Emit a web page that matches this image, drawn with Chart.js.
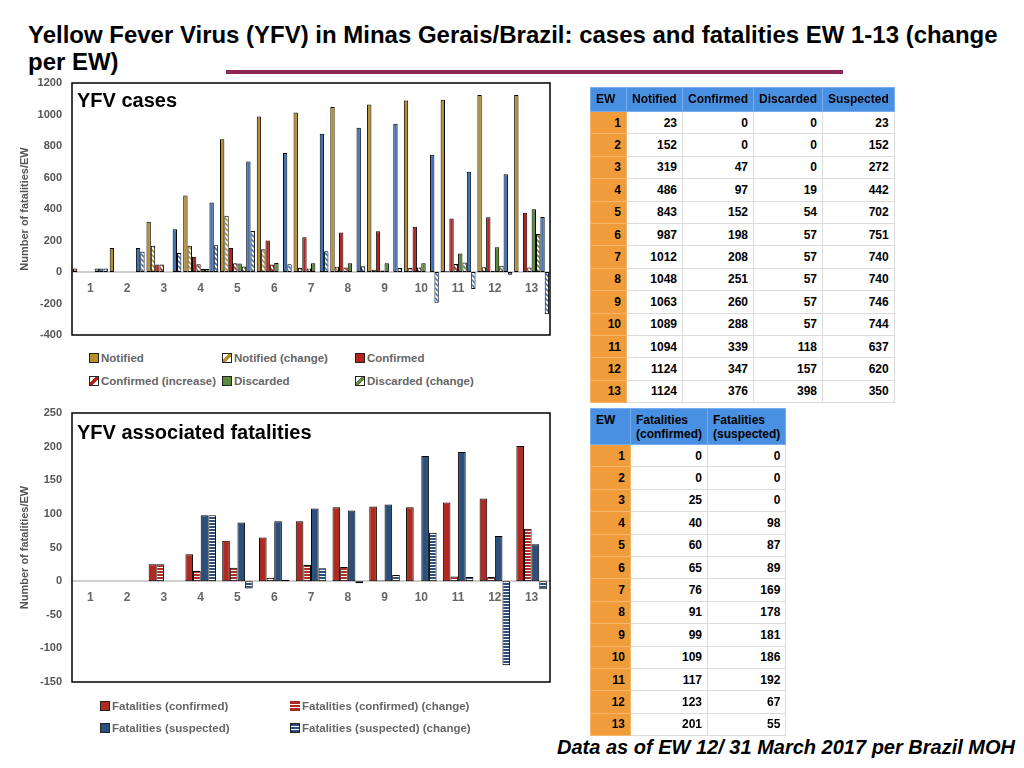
<!DOCTYPE html>
<html>
<head>
<meta charset="utf-8">
<title>YFV Minas Gerais</title>
<script src="https://cdn.jsdelivr.net/npm/chart.js@4.4.1/dist/chart.umd.min.js"></script>
<style>
  body { margin: 0; width: 1024px; height: 768px; background: #fff; position: relative; overflow: hidden;
         font-family: 'Liberation Sans', Arial, Helvetica, sans-serif; }
  #title { position: absolute; left: 28px; top: 21px; font-weight: bold; font-size: 24px; line-height: 27px;
           white-space: nowrap; transform-origin: 0 0; }
  #rule { position: absolute; left: 226px; top: 70px; width: 617px; height: 4px; background: #8e2656; }
  .chartbox { position: absolute; left: 0; width: 560px; }
  .panel-title { position: absolute; left: 77px; font-weight: bold; font-size: 20px; line-height: 22px; }
  .legend { position: absolute; font-size: 11.5px; font-weight: bold; color: #666; white-space: nowrap; line-height: 14px; }
  .legend i { display: inline-block; width: 8px; height: 8px; border: 1px solid #222; margin-right: 2px; vertical-align: -1px; }
  table { position: absolute; border-collapse: collapse; font-size: 12px; font-weight: bold; table-layout: fixed; }
  th, td { border: 1px solid #dcdcdc; padding: 0 5px; overflow: hidden; }
  th { background: #4a90e2; border-color: #78aef0; text-align: left; vertical-align: top; padding-top: 4px; line-height: 14px; }
  td { text-align: right; height: 21.4px; }
  td.ew { background: #f09c3a; border-color: #f5b56a; }
  #footer { position: absolute; right: 9px; top: 736px; font-weight: bold; font-style: italic; font-size: 20px; white-space: nowrap; }
</style>
</head>
<body>
<div id="title">Yellow Fever Virus (YFV) in Minas Gerais/Brazil: cases and fatalities EW 1-13 (change<br>per EW)</div>
<div id="rule"></div>

<div class="chartbox" style="top:73px;height:275px"><canvas id="casesChart"></canvas></div>
<div class="panel-title" style="top:89px">YFV cases</div>

<div class="chartbox" style="top:400px;height:300px"><canvas id="deathsChart"></canvas></div>
<div class="panel-title" style="top:421px">YFV associated fatalities</div>

<div id="footer">Data as of EW 12/ 31 March 2017 per Brazil MOH</div>

<script>
// --- Data ---

const weeks = ['1', '2', '3', '4', '5', '6', '7', '8', '9', '10', '11', '12', '13'];

// cases chart
const notified          = [23, 152, 319, 486, 843, 987, 1012, 1048, 1063, 1089, 1094, 1124, 1124];
const notifiedChange    = [0, 0, 167, 167, 357, 144, 25, 34, 15, 26, 5, 30, 0];
const confirmed         = [0, 0, 47, 97, 152, 200, 221, 251, 258, 288, 339, 347, 376];
const confirmedIncrease = [0, 0, 47, 50, 55, 47, 22, 29, 9, 28, 51, 8, 29];
const discarded         = [0, 0, 0, 19, 54, 57, 55, 55, 55, 55, 118, 157, 398];
const discardedChange   = [23, 0, 0, 19, 35, 3, 0, 0, 0, 0, 61, 39, 241];
const suspected         = [23, 152, 272, 442, 702, 755, 878, 916, 941, 745, 637, 620, 350];
const suspectedChange   = [23, 129, 120, 170, 260, 49, 131, 37, 25, -196, -108, -17, -268];

// fatalities chart
const fatalConfirmed       = [0, 0, 25, 40, 60, 65, 89, 110, 111, 110, 117, 123, 201];
const fatalConfirmedChange = [0, 0, 25, 15, 20, 5, 24, 21, 1, 0, 7, 6, 78];
const fatalSuspected       = [0, 0, 0, 98, 87, 89, 108, 105, 114, 186, 192, 67, 55];
const fatalSuspectedChange = [0, 0, 0, 98, -11, 2, 19, -3, 9, 72, 6, -125, -12];

// tables
const caseHeaders   = ['EW', 'Notified', 'Confirmed', 'Discarded', 'Suspected'];
const tabNotified   = [23, 152, 319, 486, 843, 987, 1012, 1048, 1063, 1089, 1094, 1124, 1124];
const tabConfirmed  = [0, 0, 47, 97, 152, 198, 208, 251, 260, 288, 339, 347, 376];
const tabDiscarded  = [0, 0, 0, 19, 54, 57, 57, 57, 57, 57, 118, 157, 398];
const tabSuspected  = [23, 152, 272, 442, 702, 751, 740, 740, 746, 744, 637, 620, 350];

const deathHeaders      = ['EW', 'Fatalities<br>(confirmed)', 'Fatalities<br>(suspected)'];
const tabFatalConfirmed = [0, 0, 25, 40, 60, 65, 76, 91, 99, 109, 117, 123, 201];
const tabFatalSuspected = [0, 0, 0, 98, 87, 89, 169, 178, 181, 186, 192, 67, 55];

// --- Colours & fills ---

const GOLD = '#b78f2b';
const RED = '#b5231c';
const GREEN = '#5c8a3b';
const BLUE = '#3f74bb';
const D_RED = '#b02a1f';
const D_BLUE = '#2d4f7b';

function hatch(color) {
    const c = document.createElement('canvas');
    c.width = 5; c.height = 5;
    const g = c.getContext('2d');
    g.fillStyle = '#fff';
    g.fillRect(0, 0, 5, 5);
    g.strokeStyle = color;
    g.lineWidth = 1.6;
    g.beginPath();
    g.moveTo(0, 0); g.lineTo(5, 5);
    g.moveTo(-1, 4); g.lineTo(1, 6);
    g.moveTo(4, -1); g.lineTo(6, 1);
    g.stroke();
    return g.createPattern(c, 'repeat');
}

function stripes(color) {
    const c = document.createElement('canvas');
    c.width = 4; c.height = 3;
    const g = c.getContext('2d');
    g.fillStyle = '#fff';
    g.fillRect(0, 0, 4, 3);
    g.fillStyle = color;
    g.fillRect(0, 0, 4, 2);
    return g.createPattern(c, 'repeat');
}

// zero-height bars would leave a stray border line
const noZero = arr => arr.map(v => (v === 0 ? null : v));

// black frame round the plot area
const framePlugin = {
    id: 'frame',
    afterDraw(chart) {
        const { ctx, chartArea: a } = chart;
        ctx.save();
        ctx.strokeStyle = '#000';
        ctx.lineWidth = 1.5;
        ctx.strokeRect(a.left, a.top, a.right - a.left, a.bottom - a.top);
        ctx.restore();
    }
};

const tickFont = { family: "'Liberation Sans', Arial, sans-serif", size: 11, weight: 'bold' };

function barOptions(min, max, step, padding, catPct) {
    return {
        responsive: true,
        maintainAspectRatio: false,
        animation: false,
        layout: { padding },
        datasets: { bar: { categoryPercentage: catPct, barPercentage: 1, borderWidth: 1, borderColor: '#000', borderSkipped: false } },
        plugins: { legend: { display: false }, tooltip: { enabled: false } },
        scales: {
            x: {
                position: { y: 0 },
                grid: { display: false, drawTicks: false },
                border: { display: true, color: '#cfcfcf', width: 2 },
                ticks: { color: '#666', font: { ...tickFont, size: 12 }, padding: 9 },
                afterFit: scale => { scale.height = 0; scale.paddingTop = 0; scale.paddingBottom = 0; }
            },
            y: {
                min, max,
                grid: { display: false, drawTicks: false },
                border: { display: false },
                ticks: { stepSize: step, color: '#555', font: tickFont, padding: 10, callback: v => v },
                title: { display: true, text: 'Number of fatalities/EW', color: '#555', font: tickFont, padding: { top: 18, bottom: 0 } },
                // fixed axis width; let the layout padding alone set the plot's top and bottom
                afterFit: scale => { scale.width = 72; scale.paddingTop = 0; scale.paddingBottom = 0; }
            }
        }
    };
}

// --- Cases chart ---

const caseSeries = [
    ['Notified', notified, GOLD],
    ['Notified (change)', notifiedChange, hatch(GOLD)],
    ['Confirmed', confirmed, RED],
    ['Confirmed (increase)', confirmedIncrease, hatch(RED)],
    ['Discarded', discarded, GREEN],
    ['Discarded (change)', discardedChange, hatch(GREEN)],
    ['Suspected', suspected, BLUE],
    ['Suspected (change)', suspectedChange, hatch(BLUE)]
];

new Chart(document.getElementById('casesChart'), {
    type: 'bar',
    data: {
        labels: weeks,
        datasets: caseSeries.map(([label, data, bg]) => ({ label, data: noZero(data), backgroundColor: bg }))
    },
    options: barOptions(-400, 1200, 200, { left: 0, top: 10, right: 10, bottom: 13 }, 0.95),
    plugins: [framePlugin]
});

// --- Fatalities chart ---

const deathSeries = [
    ['Fatalities (confirmed)', fatalConfirmed, D_RED],
    ['Fatalities (confirmed) (change)', fatalConfirmedChange, stripes(D_RED)],
    ['Fatalities (suspected)', fatalSuspected, D_BLUE],
    ['Fatalities (suspected) (change)', fatalSuspectedChange, stripes(D_BLUE)]
];

new Chart(document.getElementById('deathsChart'), {
    type: 'bar',
    data: {
        labels: weeks,
        datasets: deathSeries.map(([label, data, bg]) => ({ label, data: noZero(data), backgroundColor: bg }))
    },
    options: barOptions(-150, 250, 50, { left: 0, top: 13, right: 10, bottom: 18 }, 0.83),
    plugins: [framePlugin]
});

// --- HTML legends ---

const diag = c => `linear-gradient(135deg, #fff 0 35%, ${c} 35% 65%, #fff 65% 100%)`;
const hstripe = c => `repeating-linear-gradient(${c} 0 2px, #fff 2px 3px)`;

const legendItems = [
    // label, swatch css, left, top, border
    ['Notified', GOLD, 89, 351, true],
    ['Notified (change)', diag(GOLD), 222, 351, true],
    ['Confirmed', RED, 355, 351, true],
    ['Confirmed (increase)', diag(RED), 89, 374, true],
    ['Discarded', GREEN, 222, 374, true],
    ['Discarded (change)', diag(GREEN), 355, 374, true],
    ['Fatalities (confirmed)', D_RED, 100, 699, true],
    ['Fatalities (confirmed) (change)', hstripe(D_RED), 290, 699, false],
    ['Fatalities (suspected)', D_BLUE, 100, 721, true],
    ['Fatalities (suspected) (change)', hstripe(D_BLUE), 290, 721, true]
];

legendItems.forEach(([label, fill, left, top, border]) => {
    const el = document.createElement('div');
    el.className = 'legend';
    el.style.left = left + 'px';
    el.style.top = top + 'px';
    const sw = document.createElement('i');
    sw.style.background = fill;
    if (!border) sw.style.borderColor = 'transparent';
    el.appendChild(sw);
    el.appendChild(document.createTextNode(label));
    document.body.appendChild(el);
});

// --- Tables ---

function buildTable(headers, columns, widths, left, top, headHeight) {
    const t = document.createElement('table');
    t.style.left = left + 'px';
    t.style.top = top + 'px';
    const cg = document.createElement('colgroup');
    widths.forEach(w => { const c = document.createElement('col'); c.style.width = w + 'px'; cg.appendChild(c); });
    t.appendChild(cg);
    const hr = document.createElement('tr');
    headers.forEach(h => { const th = document.createElement('th'); th.innerHTML = h; th.style.height = (headHeight - 4) + 'px'; hr.appendChild(th); });
    t.appendChild(hr);
    weeks.forEach((w, i) => {
        const tr = document.createElement('tr');
        const ew = document.createElement('td');
        ew.className = 'ew';
        ew.textContent = w;
        tr.appendChild(ew);
        columns.forEach(col => { const td = document.createElement('td'); td.textContent = col[i]; tr.appendChild(td); });
        t.appendChild(tr);
    });
    document.body.appendChild(t);
}

buildTable(caseHeaders, [tabNotified, tabConfirmed, tabDiscarded, tabSuspected], [36, 56, 70, 69, 71], 590, 87, 23);
buildTable(deathHeaders, [tabFatalConfirmed, tabFatalSuspected], [40, 75, 76], 590, 408, 35);

// squeeze the slide title onto its line like the original
const title = document.getElementById('title');
const probe = document.createElement('span');
probe.style.cssText = 'font:bold 24px "Liberation Sans", Arial, sans-serif;white-space:nowrap;position:absolute;visibility:hidden';
probe.textContent = 'Yellow Fever Virus (YFV) in Minas Gerais/Brazil: cases and fatalities EW 1-13 (change';
document.body.appendChild(probe);
title.style.transform = `scaleX(${970 / probe.offsetWidth})`;
probe.remove();
</script>
</body>
</html>
